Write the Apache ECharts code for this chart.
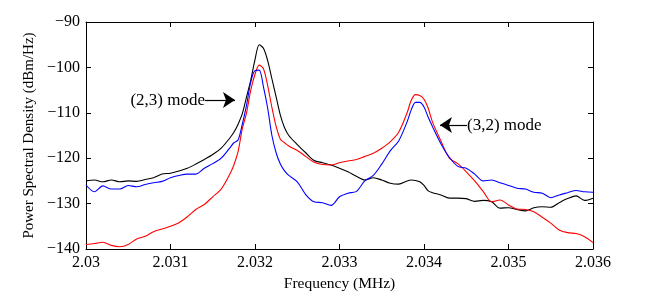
<!DOCTYPE html>
<html>
<head>
<meta charset="utf-8">
<script src="https://cdn.jsdelivr.net/npm/echarts@6/dist/echarts.min.js"></script>
<style>html,body{margin:0;padding:0;background:#fff;}#c{width:654px;height:301px;}</style>
</head>
<body>
<div id="c"></div>
<script>
var freq = [2.0300,2.0301,2.0302,2.0303,2.0304,2.0305,2.0306,2.0307,2.0308,2.0309,
  2.0310,2.0311,2.0312,2.0313,2.0314,2.0315,2.0316,2.0317,2.03175,2.0318,2.03185,2.0319,2.03195,
  2.0320,2.03205,2.0321,2.03215,2.0322,2.03225,2.0323,2.03235,2.0324,2.0325,2.0326,2.0327,2.0328,2.0329,
  2.0330,2.0331,2.0332,2.0333,2.0334,2.0335,2.0336,2.0337,2.0338,2.03385,2.0339,2.03395,
  2.0340,2.03405,2.0341,2.0342,2.0343,2.0344,2.0345,2.0346,2.0347,2.0348,2.0349,
  2.0350,2.0351,2.0352,2.0353,2.0354,2.0355,2.0356,2.0357,2.0358,2.0359,2.0360];

var blackPSD = [-125.0,-124.8,-125.2,-124.8,-125.2,-125.0,-125.1,-124.7,-124.3,-123.5,
  -123.3,-122.8,-122.2,-121.3,-120.3,-119.2,-117.8,-115.6,-114.3,-112.5,-110.2,-106.5,-102.8,
  -98.3,-95.0,-95.8,-98.5,-102.5,-106.5,-110.5,-113.3,-115.0,-117.0,-118.8,-120.5,-121.0,-121.5,
  -122.2,-123.0,-124.0,-124.8,-124.3,-124.8,-125.5,-125.7,-125.0,-124.8,-124.9,-125.2,
  -126.0,-127.2,-127.6,-128.1,-128.8,-128.8,-128.9,-129.5,-129.3,-129.6,-131.0,
  -130.9,-131.3,-131.6,-130.9,-130.7,-130.8,-129.8,-128.9,-128.3,-129.3,-128.8];

var redPSD = [-139.0,-138.8,-138.5,-139.2,-139.5,-139.0,-137.8,-137.2,-136.2,-135.6,
  -135.0,-134.2,-132.9,-131.3,-130.2,-128.5,-126.8,-123.6,-121.5,-118.5,-113.5,-110.0,-105.0,
  -101.5,-99.5,-100.3,-104.0,-108.8,-113.0,-115.8,-116.6,-117.3,-118.3,-119.6,-120.9,-121.4,-121.5,
  -121.0,-120.6,-120.3,-119.6,-118.9,-117.8,-116.4,-114.3,-110.0,-107.2,-106.0,-106.2,
  -107.0,-109.0,-112.0,-116.2,-120.0,-121.2,-123.0,-125.0,-127.3,-129.6,-129.2,
  -130.3,-131.2,-131.3,-131.8,-133.0,-134.3,-135.8,-136.4,-136.6,-137.3,-138.6];

var bluePSD = [-125.9,-127.4,-126.1,-126.8,-126.8,-126.0,-126.3,-125.8,-125.4,-125.1,
  -124.3,-123.8,-123.5,-123.5,-122.2,-121.2,-120.0,-117.8,-116.6,-116.0,-112.5,-108.3,-103.2,
  -100.7,-100.6,-104.3,-109.0,-115.0,-118.8,-121.3,-122.8,-123.8,-125.2,-128.0,-129.6,-129.8,-130.4,
  -128.5,-127.7,-127.3,-125.0,-123.8,-121.3,-118.4,-116.2,-112.0,-109.3,-107.7,-107.7,
  -108.7,-111.0,-113.0,-116.8,-119.8,-121.8,-122.2,-123.5,-125.0,-124.8,-125.4,
  -126.0,-126.6,-126.8,-127.5,-127.7,-128.7,-128.1,-127.6,-127.1,-127.4,-127.5];

var xTicks = [2.030, 2.031, 2.032, 2.033, 2.034, 2.035, 2.036];
var yTicks = [-140, -130, -120, -110, -100, -90];

var annot23 = {text: '(2,3) mode', from: [2.031408, -107.2], to: [2.031763, -107.2]};
var annot32 = {text: '(3,2) mode', from: [2.034509, -112.7], to: [2.034189, -112.7]};

function pairs(v) { return freq.map(function (f, i) { return [f, v[i]]; }); }

var FONT = 'Liberation Serif';
var chart = echarts.init(document.getElementById('c'), null, {renderer: 'canvas'});

function arrowLine(a) {
  return {
    silent: true,
    symbol: ['none', 'arrow'],
    symbolSize: 12,
    animation: false,
    lineStyle: {color: '#000', width: 1.2, type: 'solid'},
    itemStyle: {color: '#000'},
    label: {show: true, position: 'start', formatter: a.text, color: '#000',
      fontFamily: FONT, fontSize: 17, distance: 0},
    data: [[{coord: a.from}, {coord: a.to}]]
  };
}

var axisCommon = {
  type: 'value',
  axisLine: {show: true, lineStyle: {color: '#000', width: 1}},
  axisTick: {show: true, inside: true, length: 5, lineStyle: {color: '#000'}},
  splitLine: {show: false}
};

chart.setOption({
  animation: false,
  backgroundColor: '#fff',
  grid: {left: 86, right: 61, top: 22, bottom: 52},
  xAxis: [
    Object.assign({}, axisCommon, {
      position: 'bottom', min: xTicks[0], max: xTicks[xTicks.length - 1], interval: 0.001,
      name: 'Frequency (MHz)', nameLocation: 'middle', nameGap: 24,
      nameTextStyle: {fontFamily: FONT, fontSize: 15.5, color: '#000'},
      axisLabel: {fontFamily: FONT, fontSize: 16, color: '#000', margin: 6,
        formatter: function (v) { return String(+v.toFixed(3)); }}
    }),
    Object.assign({}, axisCommon, {
      position: 'top', min: xTicks[0], max: xTicks[xTicks.length - 1], interval: 0.001,
      axisLabel: {show: false}
    })
  ],
  yAxis: [
    Object.assign({}, axisCommon, {
      position: 'left', min: yTicks[0], max: yTicks[yTicks.length - 1], interval: 10,
      name: 'Power Spectral Density (dBm/Hz)', nameLocation: 'middle', nameGap: 45,
      nameTextStyle: {fontFamily: FONT, fontSize: 15, color: '#000'},
      axisLabel: {fontFamily: FONT, fontSize: 16, color: '#000', margin: 6,
        formatter: function (v) { return String(v).replace('-', '\u2212'); }}
    }),
    Object.assign({}, axisCommon, {
      position: 'right', min: yTicks[0], max: yTicks[yTicks.length - 1], interval: 10,
      axisLabel: {show: false}
    })
  ],
  series: [
    {type: 'line', data: pairs(blackPSD), showSymbol: false, smooth: 0.3,
      lineStyle: {color: '#000', width: 1.1}, itemStyle: {color: '#000'},
      markLine: arrowLine(annot23)},
    {type: 'line', data: pairs(redPSD), showSymbol: false, smooth: 0.3,
      lineStyle: {color: '#ff0000', width: 1.1}, itemStyle: {color: '#ff0000'},
      markLine: arrowLine(annot32)},
    {type: 'line', data: pairs(bluePSD), showSymbol: false, smooth: 0.3,
      lineStyle: {color: '#0000ff', width: 1.1}, itemStyle: {color: '#0000ff'}}
  ]
});
</script>
</body>
</html>
